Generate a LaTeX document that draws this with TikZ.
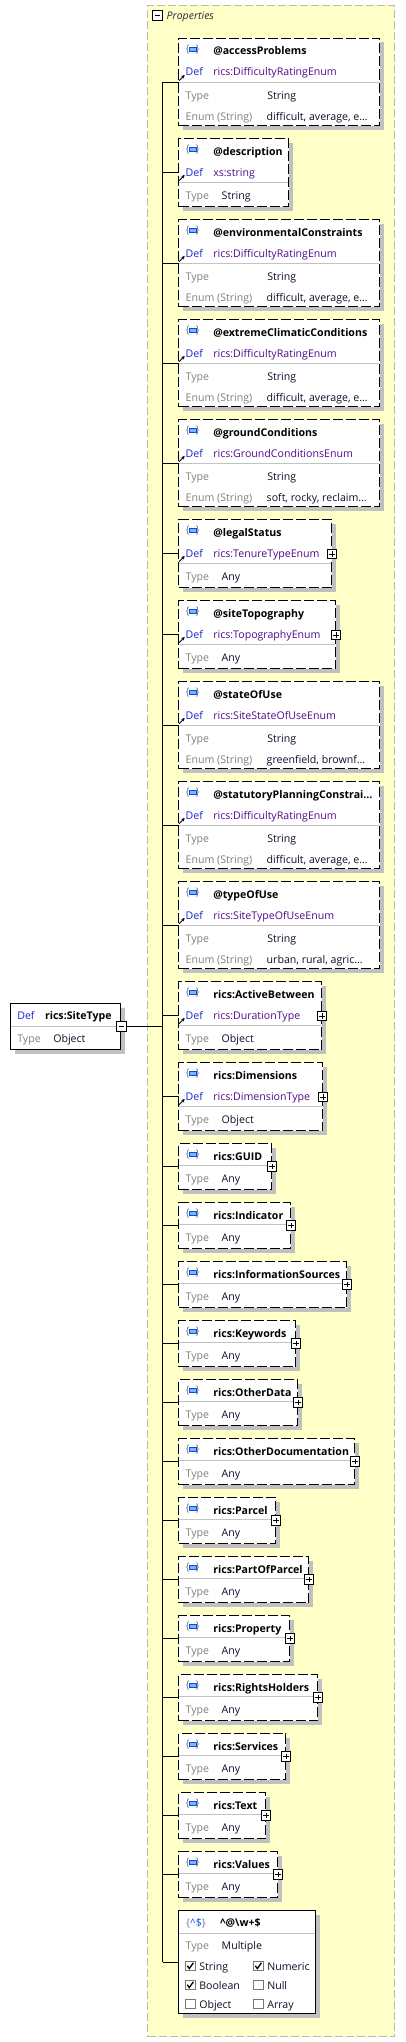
\documentclass[tikz,border=0pt]{standalone}
\usepackage{fontspec}
\setmainfont{Open Sans}
\usetikzlibrary{shadows,arrows.meta,calc}

\definecolor{propfill}{RGB}{255,255,200}
\definecolor{propborder}{RGB}{185,185,185}
\definecolor{defblue}{RGB}{20,40,210}
\definecolor{refpurp}{RGB}{80,10,140}
\definecolor{lblgray}{RGB}{128,128,128}
\definecolor{sepgray}{RGB}{195,195,195}
\definecolor{shadowgray}{RGB}{192,192,192}
\definecolor{icongray}{RGB}{120,120,120}
\definecolor{iconblue}{RGB}{0,80,230}
\definecolor{iconfill}{RGB}{130,175,255}
\definecolor{valtext}{RGB}{20,10,40}
\definecolor{proptext}{RGB}{40,40,60}

\newcommand{\fs}{\fontsize{10.6}{12}\selectfont}
\newcommand{\fsb}{\fontsize{10.6}{12}\selectfont\bfseries}

\tikzset{
  every node/.style={inner sep=0pt, outer sep=0pt},
  frame/.style={draw=black, line width=1pt, fill=white, anchor=north west,
    drop shadow={shadow xshift=4pt, shadow yshift=-4pt, opacity=1, fill=shadowgray}},
  dframe/.style={frame, dash pattern=on 10pt off 3pt},
  txt/.style={anchor=base west, font=\fs},
  nametxt/.style={txt, font=\fsb},
  deftxt/.style={txt, text=defblue},
  reftxt/.style={txt, text=refpurp},
  lbltxt/.style={txt, text=lblgray},
  valtxt/.style={txt, text=valtext},
  sepline/.style={draw=sepgray, line width=1pt},
  branch/.style={draw=black, line width=1pt},
  brc/.style={font=\fontsize{10.5}{12}\selectfont, text=icongray},
  sqicon/.style={draw=iconblue, fill=iconfill, line width=0.8pt, minimum width=6.3pt, minimum height=4.2pt},
  togglebox/.style={draw=black, fill=white, line width=0.9pt, minimum size=9.5pt},
  plusbox/.style={togglebox, path picture={\draw[line width=0.9pt]
      ([xshift=2pt]path picture bounding box.west) -- ([xshift=-2pt]path picture bounding box.east)
      ([yshift=-2pt]path picture bounding box.north) -- ([yshift=2pt]path picture bounding box.south);}},
  minusbox/.style={togglebox, path picture={\draw[line width=0.9pt]
      ([xshift=2pt]path picture bounding box.west) -- ([xshift=-2pt]path picture bounding box.east);}},
  cbox/.style={draw=icongray, fill=white, line width=0.9pt, minimum size=9.3pt},
  chk/.style={line width=1.3pt, line join=miter},
}

% icon {[]}: id, x left, y centre
\newcommand{\picon}[3]{%
  \node[brc, anchor=west] (#1-bl) at ({#2},{#3}) {\{};
  \node[brc, anchor=east] (#1-br) at ({#2+14},{#3}) {\}};
  \node[sqicon] (#1-sq) at ({#2+7.2},{#3}) {};
}
% reference arrow: x = box left, y = def row centre
\newcommand{\refarrow}[2]{%
  \draw[line width=0.9pt, -{Stealth[length=3.4pt,width=3.4pt]}] ({#1+0.6},{#2+8.6}) -- ({#1+6.2},{#2+3});
}
% common head: id, top, name
\newcommand{\headrow}[3]{%
  \picon{#1}{185.7}{#2+11}
  \node[nametxt] (#1-n) at (213.3,{#2+12.5+4}) {#3};
}
% 4-row attribute with enumeration: id, top, right, name, ref, enum
\newcommand{\attrA}[6]{%
  \node[dframe, minimum width={#3-178.5}, minimum height=87] (#1) at (178.5,#2) {};
  \headrow{#1}{#2}{#4}
  \refarrow{178.5}{#2+33.5}
  \node[deftxt] (#1-d) at (185.7,{#2+33.5+4}) {Def};
  \node[reftxt] (#1-r) at (213.3,{#2+33.5+4}) {#5};
  \draw[sepline] (179,{#2+44}) -- ({#3-0.5},{#2+44});
  \node[lbltxt] (#1-t) at (185.7,{#2+57+4}) {Type};
  \node[valtxt] (#1-tv) at (267.3,{#2+57+4}) {String};
  \node[lbltxt] (#1-e) at (185.7,{#2+78+4}) {Enum (String)};
  \node[valtxt] (#1-ev) at (266.7,{#2+78+4}) {#6};
  \draw[branch] (#1.west -| spine) -- (#1.west);
}
% 3-row: id, top, right, name, ref, type value
\newcommand{\attrB}[6]{%
  \node[dframe, minimum width={#3-178.5}, minimum height=68] (#1) at (178.5,#2) {};
  \headrow{#1}{#2}{#4}
  \refarrow{178.5}{#2+33.5}
  \node[deftxt] (#1-d) at (185.7,{#2+33.5+4}) {Def};
  \node[reftxt] (#1-r) at (213.3,{#2+33.5+4}) {#5};
  \draw[sepline] (179,{#2+44}) -- ({#3-0.5},{#2+44});
  \node[lbltxt] (#1-t) at (185.7,{#2+57+4}) {Type};
  \node[valtxt] (#1-tv) at (221.7,{#2+57+4}) {#6};
  \draw[branch] (#1.west -| spine) -- (#1.west);
}
% 2-row element: id, top, right, name
\newcommand{\elemC}[4]{%
  \node[dframe, minimum width={#3-178.5}, minimum height=46] (#1) at (178.5,#2) {};
  \headrow{#1}{#2}{#4}
  \draw[sepline] (179,{#2+22}) -- ({#3-0.5},{#2+22});
  \node[lbltxt] (#1-t) at (185.7,{#2+34.5+4}) {Type};
  \node[valtxt] (#1-tv) at (221.7,{#2+34.5+4}) {Any};
  \node[plusbox] (#1-p) at ($(#1.north east)+(0.6,22.8)$) {};
  \draw[branch] (#1.west -| spine) -- (#1.west);
}
\newcommand{\plusdef}[1]{\node[plusbox] (#1-p) at ($(#1.north east)+(0.6,34.5)$) {};}
% checkbox: id, x centre, y centre, label, checked(1/0)
\newcommand{\cb}[5]{%
  \node[cbox] (#1) at (#2,#3) {};
  \node[valtxt] (#1-l) at ({#2+9},{#3+4}) {#4};
  \ifnum#5=1 \draw[chk] ({#2-3},{#3-0.3}) -- ({#2-1},{#3+2.6}) -- ({#2+3.1},{#3-3.2});\fi
}

\begin{document}
\begin{tikzpicture}[x=1pt,y=-1pt]
\useasboundingbox (0,0) rectangle (405,2042);
\fill[white] (0,0) rectangle (405,2042);

% Properties compositor
\node[draw=propborder, fill=propfill, line width=1pt, dash pattern=on 8pt off 3pt,
  anchor=north west, minimum width=247, minimum height=2031] (props) at (147.5,5.5) {};
\node[minusbox] (props-m) at (157.5,15.3) {};
\node[txt, font=\fontsize{10.5}{12}\selectfont\itshape, text=proptext] (props-t) at (166.7,19.8) {Properties};

\coordinate (spine) at (162.5,0);

\attrA{b1}{38.5}{379.5}{@accessProblems}{rics:DifficultyRatingEnum}{difficult, average, e…}
\attrB{b2}{138.5}{288.5}{@description}{xs:string}{String}
\attrA{b3}{219.5}{379.5}{@environmentalConstraints}{rics:DifficultyRatingEnum}{difficult, average, e…}
\attrA{b4}{319.5}{379.5}{@extremeClimaticConditions}{rics:DifficultyRatingEnum}{difficult, average, e…}
\attrA{b5}{419.5}{379.5}{@groundConditions}{rics:GroundConditionsEnum}{soft, rocky, reclaim…}
\attrB{b6}{519.5}{331.5}{@legalStatus}{rics:TenureTypeEnum}{Any}
\plusdef{b6}
\attrB{b7}{600.5}{335.5}{@siteTopography}{rics:TopographyEnum}{Any}
\plusdef{b7}
\attrA{b8}{681.5}{379.5}{@stateOfUse}{rics:SiteStateOfUseEnum}{greenfield, brownf…}
\attrA{b9}{781.5}{379.5}{@statutoryPlanningConstrai…}{rics:DifficultyRatingEnum}{difficult, average, e…}
\attrA{b10}{881.5}{379.5}{@typeOfUse}{rics:SiteTypeOfUseEnum}{urban, rural, agric…}
\attrB{b11}{981.5}{321.5}{rics:ActiveBetween}{rics:DurationType}{Object}
\plusdef{b11}
\attrB{b12}{1062.5}{322.5}{rics:Dimensions}{rics:DimensionType}{Object}
\plusdef{b12}
\elemC{b13}{1143.5}{271.5}{rics:GUID}
\elemC{b14}{1202.5}{290.5}{rics:Indicator}
\elemC{b15}{1261.5}{346.5}{rics:InformationSources}
\elemC{b16}{1320.5}{295.5}{rics:Keywords}
\elemC{b17}{1379.5}{297.5}{rics:OtherData}
\elemC{b18}{1438.5}{354.5}{rics:OtherDocumentation}
\elemC{b19}{1497.5}{275.5}{rics:Parcel}
\elemC{b20}{1556.5}{308.5}{rics:PartOfParcel}
\elemC{b21}{1615.5}{289.5}{rics:Property}
\elemC{b22}{1674.5}{317.5}{rics:RightsHolders}
\elemC{b23}{1733.5}{285.5}{rics:Services}
\elemC{b24}{1792.5}{265.5}{rics:Text}
\elemC{b25}{1851.5}{277.5}{rics:Values}

% pattern property
\node[frame, minimum width=137, minimum height=103] (b26) at (178.5,1910.5) {};
\node[txt, font=\fontsize{10.5}{12}\selectfont] (b26-ic) at (186.2,1926.2)
  {\textcolor{icongray}{\{}\textcolor{iconblue}{\textasciicircum\$}\textcolor{icongray}{\}}};
\node[nametxt] (b26-n) at (220,1926.7) {\textasciicircum @\textbackslash w+\$};
\draw[sepline] (179,1933) -- (315,1933);
\node[lbltxt] (b26-t) at (185.7,1949) {Type};
\node[valtxt] (b26-tv) at (221.7,1949) {Multiple};
\cb{c1}{190.3}{1966}{String}{1}
\cb{c2}{258.3}{1966}{Numeric}{1}
\cb{c3}{190.3}{1985}{Boolean}{1}
\cb{c4}{258.3}{1985}{Null}{0}
\cb{c5}{190.3}{2004}{Object}{0}
\cb{c6}{258.3}{2004}{Array}{0}
\draw[branch] (b26.west -| spine) -- (b26.west);

% spine
\draw[branch] (b1.west -| spine) -- (b26.west -| spine);

% root
\node[frame, minimum width=110, minimum height=46] (root) at (10.5,1003.5) {};
\node[deftxt] (root-d) at (17.3,1019) {Def};
\node[nametxt] (root-n) at (45,1019) {rics:SiteType};
\draw[sepline] (11,1026) -- (120,1026);
\node[lbltxt] (root-t) at (17.3,1042) {Type};
\node[valtxt] (root-tv) at (53.3,1042) {Object};
\node[minusbox] (root-m) at (121.5,1026.3) {};
\draw[branch] (root-m.east) -- (root-m.east -| spine);
\end{tikzpicture}
\end{document}
